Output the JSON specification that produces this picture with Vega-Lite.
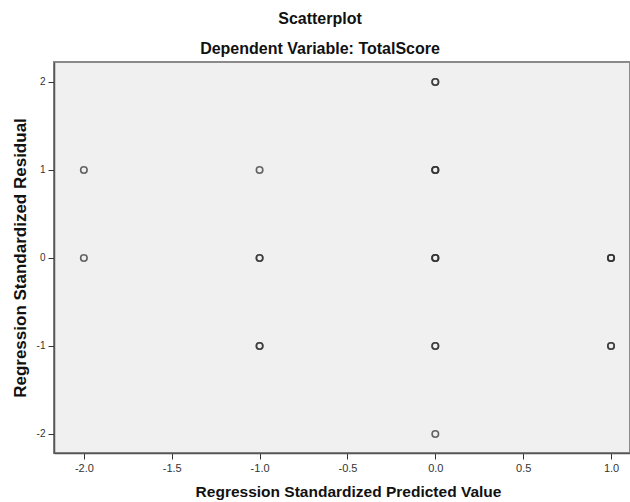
{
  "$schema": "https://vega.github.io/schema/vega-lite/v6.json",
  "autosize": "none",
  "width": 576,
  "height": 391,
  "padding": {"left": 54, "top": 62, "right": 0, "bottom": 49},
  "background": "white",
  "config": {
    "font": "Liberation Sans",
    "view": {"fill": "#f0f0f0", "stroke": "#8a8a8a", "strokeWidth": 2},
    "axis": {
      "grid": false,
      "domainColor": "#555555",
      "domainWidth": 1.5,
      "tickColor": "#333333",
      "tickSize": 6,
      "labelFont": "Liberation Sans",
      "labelFontSize": 10,
      "labelColor": "#333333",
      "titleFont": "Liberation Sans",
      "titleFontSize": 12,
      "titleFontWeight": "bold",
      "titleColor": "#111111"
    }
  },
  "title": {
    "text": "Scatterplot",
    "subtitle": "Dependent Variable: TotalScore",
    "anchor": "middle",
    "frame": "group",
    "dx": -22,
    "font": "Liberation Sans",
    "fontSize": 16,
    "fontWeight": "bold",
    "color": "#111111",
    "subtitleFont": "Liberation Sans",
    "subtitleFontSize": 16,
    "subtitleFontWeight": "bold",
    "subtitleColor": "#111111",
    "subtitlePadding": 14,
    "offset": 5
  },
  "data": {
    "values": [
      {"pred": -2, "resid": 1},
      {"pred": -2, "resid": 0},
      {"pred": -1, "resid": 1},
      {"pred": -1, "resid": 0},
      {"pred": -1, "resid": 0},
      {"pred": -1, "resid": -1},
      {"pred": -1, "resid": -1},
      {"pred": 0, "resid": 2},
      {"pred": 0, "resid": 2},
      {"pred": 0, "resid": 1},
      {"pred": 0, "resid": 1},
      {"pred": 0, "resid": 1},
      {"pred": 0, "resid": 0},
      {"pred": 0, "resid": 0},
      {"pred": 0, "resid": 0},
      {"pred": 0, "resid": -1},
      {"pred": 0, "resid": -1},
      {"pred": 0, "resid": -2},
      {"pred": 1, "resid": 0},
      {"pred": 1, "resid": 0},
      {"pred": 1, "resid": 0},
      {"pred": 1, "resid": -1},
      {"pred": 1, "resid": -1}
    ]
  },
  "mark": {"type": "point", "shape": "circle", "filled": false, "stroke": "#333333", "strokeWidth": 1.6, "opacity": 0.75, "size": 42},
  "encoding": {
    "x": {
      "field": "pred",
      "type": "quantitative",
      "title": "Regression Standardized Predicted Value",
      "scale": {"domain": [-2.17, 1.108], "nice": false, "zero": false},
      "axis": {"values": [-2, -1.5, -1, -0.5, 0, 0.5, 1], "labelExpr": "replace(format(datum.value, '.1f'), '\u2212', '-')", "labelFontSize": 11, "labelPadding": 3, "titleFontSize": 15.5, "titlePadding": 11, "titleX": 294}
    },
    "y": {
      "field": "resid",
      "type": "quantitative",
      "title": "Regression Standardized Residual",
      "scale": {"domain": [-2.216, 2.227], "nice": false, "zero": false},
      "axis": {"values": [-2, -1, 0, 1, 2], "labelExpr": "replace(format(datum.value, 'd'), '\u2212', '-')", "labelPadding": 3, "titleFontSize": 17, "titlePadding": 7}
    }
  }
}
